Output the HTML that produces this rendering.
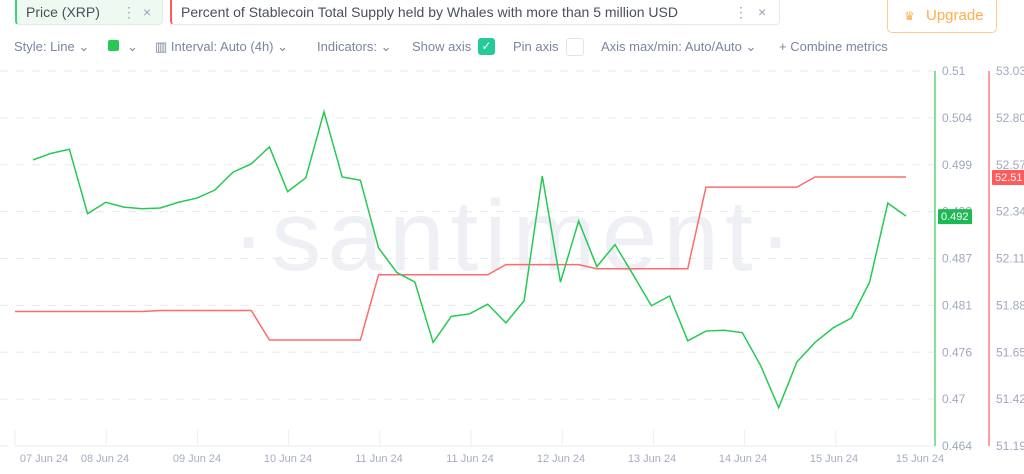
<!DOCTYPE html>
<html><head><meta charset="utf-8">
<style>
body{margin:0;width:1024px;height:474px;overflow:hidden;background:#fff;font-family:"Liberation Sans",sans-serif;position:relative}
.tab{position:absolute;top:0;height:25px;border:1px solid #e6e8ee;border-top:none;border-radius:0 0 4px 4px;font-size:14px;color:#4a4f5c;line-height:24px;box-sizing:border-box;padding-left:9px}
.tb{position:absolute;top:39px;font-size:13px;color:#7a859e;white-space:nowrap}
</style></head><body>
<div class="tab" style="left:15px;width:148px;background:#eefaf1;border-left:2px solid #37d67a">Price (XRP)<span style="position:absolute;left:105px;color:#9aa3b5">⋮</span><span style="position:absolute;left:126px;color:#9aa3b5">×</span></div>
<div class="tab" style="left:170px;width:610px;border-left:2px solid #ff5b5b">Percent of Stablecoin Total Supply held by Whales with more than 5 million USD<span style="position:absolute;left:562px;color:#9aa3b5">⋮</span><span style="position:absolute;left:586px;color:#9aa3b5">×</span></div>
<div style="position:absolute;left:887px;top:-3px;width:110px;height:36px;border:1px solid #ffcd8a;border-radius:5px;color:#ffad4d;font-size:15px;line-height:36px;box-sizing:border-box;padding-left:38px"><span style="position:absolute;left:16px;font-size:12px">♛</span>Upgrade</div>
<div class="tb" style="left:14px">Style: Line ⌄</div>
<div style="position:absolute;left:108px;top:40px;width:11px;height:11px;background:#26c953;border-radius:2px"></div>
<div class="tb" style="left:127px">⌄</div>
<div class="tb" style="left:155px">▥ Interval: Auto (4h) ⌄</div>
<div class="tb" style="left:317px">Indicators: ⌄</div>
<div class="tb" style="left:412px">Show axis</div>
<div style="position:absolute;left:478px;top:38px;width:17px;height:17px;background:#26c99a;border-radius:3px;color:#fff;font-size:12px;text-align:center;line-height:17px">✓</div>
<div class="tb" style="left:513px">Pin axis</div>
<div style="position:absolute;left:566px;top:38px;width:16px;height:16px;border:1px solid #e0e3ea;border-radius:3px"></div>
<div class="tb" style="left:601px">Axis max/min: Auto/Auto ⌄</div>
<div class="tb" style="left:779px">+ Combine metrics</div>
<svg id="chart" width="1024" height="474" style="position:absolute;left:0;top:0" font-family="Liberation Sans, sans-serif"></svg>
<script>
const priceTicks=["0.51","0.504","0.499","0.493","0.487","0.481","0.476","0.47","0.464"];
const rightTicks=["53.03","52.80","52.57","52.34","52.11","51.88","51.65","51.42","51.19"];
const dateLabels=["07 Jun 24","08 Jun 24","09 Jun 24","10 Jun 24","11 Jun 24","11 Jun 24","12 Jun 24","13 Jun 24","14 Jun 24","15 Jun 24","15 Jun 24"];
const priceValues=[0.4991,0.4999,0.5004,0.4925,0.4939,0.4933,0.4931,0.4932,0.4939,0.4944,0.4954,0.4976,0.4986,0.5007,0.4952,0.4969,0.5050,0.4970,0.4966,0.4883,0.4853,0.4841,0.4767,0.4799,0.4802,0.4814,0.4791,0.4818,0.4971,0.4841,0.4916,0.4860,0.4887,0.4850,0.4812,0.4824,0.4769,0.4781,0.4782,0.4779,0.4739,0.4687,0.4743,0.4767,0.4785,0.4797,0.4841,0.4938,0.4922];
const whaleValues=[51.85,51.85,51.85,51.85,51.85,51.85,51.85,51.855,51.855,51.855,51.855,51.855,51.855,51.71,51.71,51.71,51.71,51.71,51.71,52.03,52.03,52.03,52.03,52.03,52.03,52.03,52.08,52.08,52.08,52.08,52.08,52.06,52.06,52.06,52.06,52.06,52.06,52.46,52.46,52.46,52.46,52.46,52.46,52.51,52.51,52.51,52.51,52.51,52.51];
const svg=document.getElementById('chart');const NS='http://www.w3.org/2000/svg';
function mk(t,a,txt){const e=document.createElementNS(NS,t);for(const k in a)e.setAttribute(k,a[k]);if(txt!==undefined)e.textContent=txt;svg.appendChild(e);return e;}
const yTop=71,yBot=446;
const yP=v=>yBot-(v-0.464)/(0.51-0.464)*(yBot-yTop);
const yW=v=>yBot-(v-51.19)/(53.03-51.19)*(yBot-yTop);
const xI=i=>33+i*(906-33)/(priceValues.length-1);
let w=mk('text',{x:515,y:270,'font-size':100,fill:'#eef0f5','text-anchor':'middle','letter-spacing':6},'·santiment·');

priceTicks.forEach((t,i)=>{const y=yTop+i*(yBot-yTop)/(priceTicks.length-1);
 let g=mk('line',{x1:0,x2:935,y1:y,y2:y,stroke:'#e8eaf0','stroke-dasharray':'8 8'});
 let l=mk('text',{x:942,y:y+4,'font-size':12,fill:'#9fa8bd'},t);
 let r=mk('text',{x:996,y:y+4,'font-size':12,fill:'#9fa8bd'},rightTicks[i]);});
const dateX=[44,105,197,288,379,470,561,652,743,834,920];
dateLabels.forEach((d,i)=>{let t=mk('text',{x:dateX[i],y:462,'font-size':11,fill:'#a5adc0','text-anchor':'middle'},d);
 if(i<10){let v=mk('line',{x1:15+i*91.2,x2:15+i*91.2,y1:430,y2:446,stroke:'#eceef3'});}});
let xa=mk('line',{x1:15,x2:935,y1:446,y2:446,stroke:'#eceef3'});
let ga=mk('line',{x1:935,x2:935,y1:71,y2:446,stroke:'#5cd67a','stroke-width':1.5});
let ra=mk('line',{x1:989,x2:989,y1:71,y2:446,stroke:'#ff7b7b','stroke-width':1.5});
let rp='M15,'+yW(whaleValues[0]);whaleValues.forEach((v,i)=>rp+=' L'+xI(i)+','+yW(v));
let rl=mk('path',{d:rp,fill:'none',stroke:'#ff6b6b','stroke-width':1.5});
let gp='';priceValues.forEach((v,i)=>gp+=(i?' L':'M')+xI(i)+','+yP(v));
let gl=mk('path',{d:gp,fill:'none',stroke:'#26c953','stroke-width':1.5});
const lastP=priceValues[priceValues.length-1],lastW=whaleValues[whaleValues.length-1];
let gb=mk('rect',{x:938,y:yP(lastP)-7,width:34,height:15,fill:'#1db954',rx:1});
let gt=mk('text',{x:941,y:yP(lastP)+4,'font-size':11,fill:'#fff'},lastP.toFixed(3));
let rb=mk('rect',{x:992,y:yW(lastW)-7,width:34,height:15,fill:'#ff5b5b',rx:1});
let rt=mk('text',{x:995,y:yW(lastW)+4,'font-size':11,fill:'#fff'},lastW.toFixed(2));
</script>
</body></html>
